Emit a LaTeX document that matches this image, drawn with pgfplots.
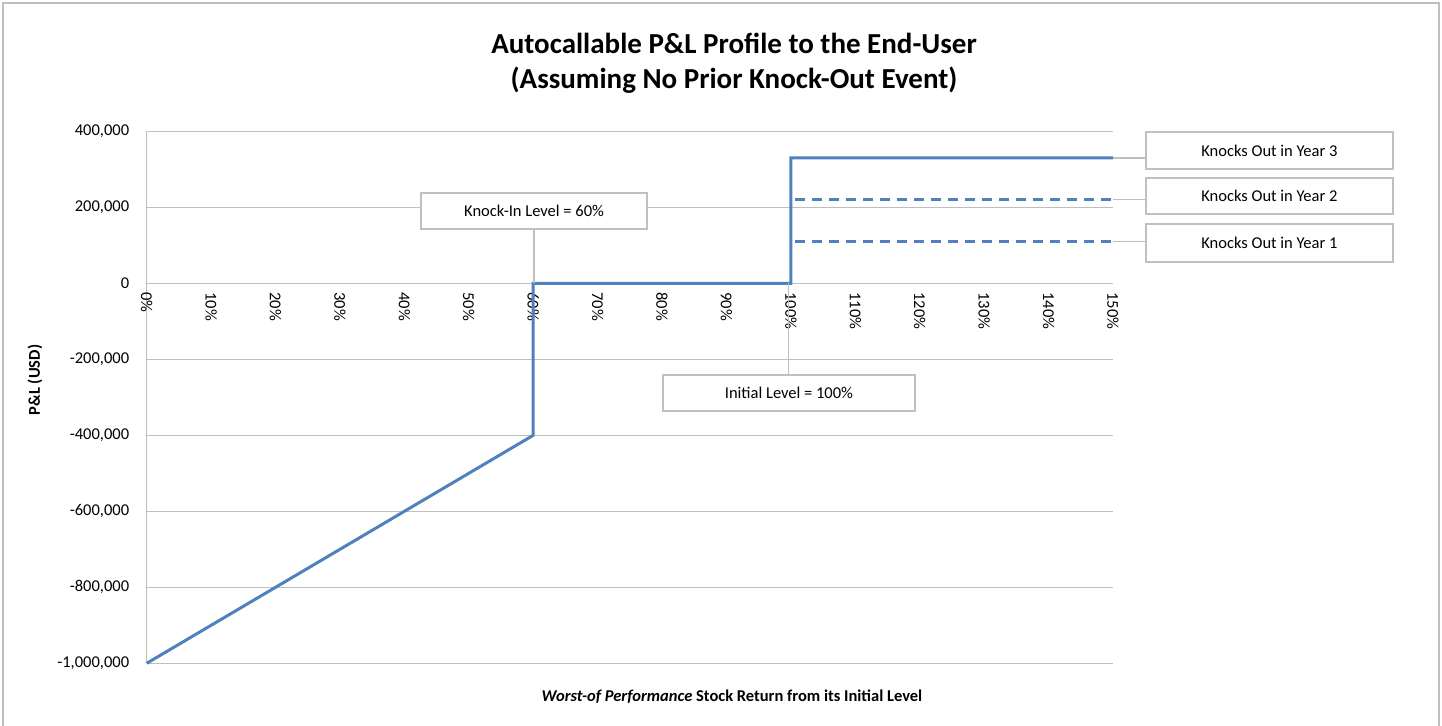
\documentclass[border=0pt]{standalone}
\usepackage{fontspec}
\setmainfont{Carlito}
\usepackage{pgfplots}
\pgfplotsset{compat=1.18}
\definecolor{xlblue}{HTML}{4F81BD}
\definecolor{gridgray}{HTML}{BFBFBF}
\definecolor{boxgray}{HTML}{C0C0C0}
\newcommand{\fs}{\fontsize{8.25pt}{10pt}\selectfont}
\tikzset{box/.style={draw=boxgray, line width=1pt, fill=white, font=\fs, inner sep=0pt}}
\begin{document}
\begin{tikzpicture}
\path[use as bounding box] (0,0) rectangle (721pt,-362.5pt);
\draw[gridgray, line width=1pt] (1.5pt,-364pt) -- (1.5pt,-1.5pt) -- (719.5pt,-1.5pt) -- (719.5pt,-364pt);
\node[font=\fontsize{14.5pt}{17.5pt}\selectfont\bfseries, align=center] at (367pt,-31.5pt)
  {Autocallable P\&L Profile to the End-User\\(Assuming No Prior Knock-Out Event)};
\node[font=\fs\bfseries, rotate=90] at (17.5pt,-190pt) {P\&L (USD)};
\node[font=\fs\bfseries] at (366pt,-348.5pt) {\textit{Worst-of Performance} Stock Return from its Initial Level};
\begin{axis}[
  at={(73.35pt,-331.65pt)}, anchor=south west,
  scale only axis, width=483.15pt, height=266pt,
  xmin=0, xmax=1.5, ymin=-1000000, ymax=400000,
  axis x line*=middle, axis y line*=left,
  axis line style={gridgray, line width=0.75pt, -},
  ytick={-1000000,-800000,-600000,-400000,-200000,0,200000,400000},
  ymajorgrids, grid style={gridgray, line width=0.75pt},
  xtick={0,0.1,0.2,0.3,0.4,0.5,0.6,0.7,0.8,0.9,1.0,1.1,1.2,1.3,1.4,1.5},
  xticklabels={0\%,10\%,20\%,30\%,40\%,50\%,60\%,70\%,80\%,90\%,100\%,110\%,120\%,130\%,140\%,150\%},
  xticklabel style={rotate=-90, anchor=west, font=\fs, xshift=1pt},
  yticklabel style={font=\fs, xshift=-5.25pt},
  scaled y ticks=false,
  /pgf/number format/.cd, fixed, 1000 sep={,}, assume math mode=true,
  /pgfplots/.cd,
  major tick length=0pt,
  hide obscured x ticks=false, hide obscured y ticks=false,
  clip=false,
]
\addplot[xlblue, line width=1.5pt] coordinates {(0,-1000000) (0.6,-400000) (0.6,0) (1.0,0) (1.0,330000) (1.5,330000)};
\addplot[xlblue, line width=1.5pt, dash pattern=on 5pt off 3.5pt] coordinates {(1.007,220000) (1.5,220000)};
\addplot[xlblue, line width=1.5pt, dash pattern=on 5pt off 3.5pt] coordinates {(1.007,110000) (1.5,110000)};
\draw[gridgray, line width=0.75pt] (axis cs:0.601,0) -- (axis cs:0.601,150000);
\draw[gridgray, line width=0.75pt] (axis cs:0.996,0) -- (axis cs:0.996,-250000);
\draw[gridgray, line width=0.75pt] (axis cs:1.5,330000) -- (axis cs:1.5508,330000);
\draw[gridgray, line width=0.75pt] (axis cs:1.5,220000) -- (axis cs:1.5508,220000);
\draw[gridgray, line width=0.75pt] (axis cs:1.5,110000) -- (axis cs:1.5508,110000);
\node[box, minimum width=113pt, minimum height=18.2pt] at (axis cs:0.6013,190800) {Knock-In Level = 60\%};
\node[box, minimum width=126pt, minimum height=18pt] at (axis cs:0.997,-287900) {Initial Level = 100\%};
\node[box, minimum width=123.7pt, minimum height=18.4pt] at (axis cs:1.7428,349000) {Knocks Out in Year 3};
\node[box, minimum width=123.7pt, minimum height=18.2pt] at (axis cs:1.7428,230000) {Knocks Out in Year 2};
\node[box, minimum width=123.7pt, minimum height=18.7pt] at (axis cs:1.7428,106000) {Knocks Out in Year 1};
\end{axis}
\end{tikzpicture}
\end{document}
